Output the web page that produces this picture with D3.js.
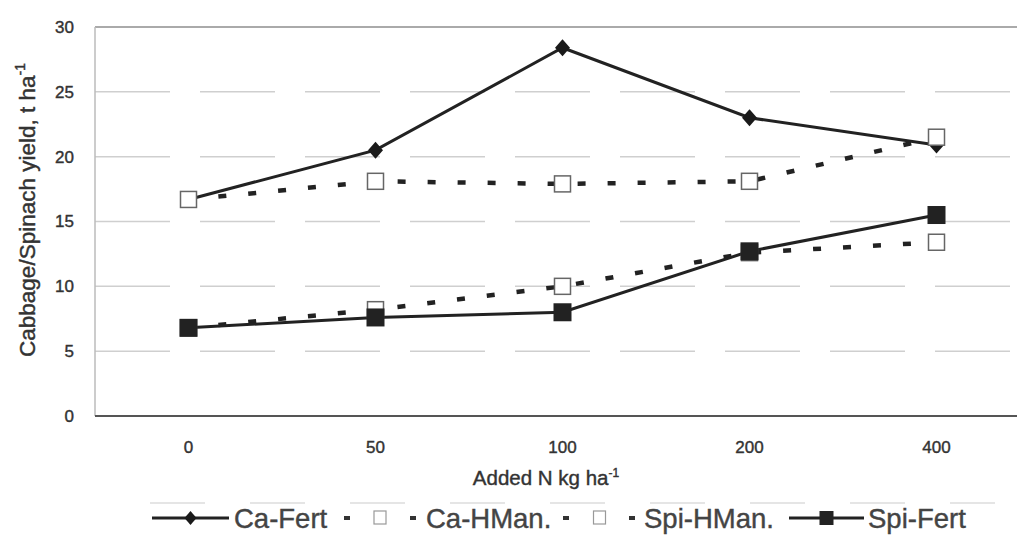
<!DOCTYPE html>
<html>
<head>
<meta charset="utf-8">
<script src="https://cdn.jsdelivr.net/npm/d3@7"></script>
<style>
  body { margin: 0; background: #fff; }
  svg { display: block; }
  text { font-family: "Liberation Sans", Arial, sans-serif; fill: #333; stroke: #333; stroke-width: 0.4px; }
</style>
</head>
<body>
<svg id="chart" width="1017" height="541"></svg>
<script>
// nitrogen rates (categorical x axis)
var nRates = ["0", "50", "100", "200", "400"];
var yTicks = [0, 5, 10, 15, 20, 25, 30];

// yields, t/ha
var caFert = [16.7, 20.5, 28.4, 23.0, 20.9];
var caHMan = [16.7, 18.1, 17.9, 18.1, 21.5];
var spiHMan = [6.8, 8.2, 10.0, 12.6, 13.4];
var spiFert = [6.8, 7.6, 8.0, 12.7, 15.5];

var seriesNames = ["Ca-Fert", "Ca-HMan.", "Spi-HMan.", "Spi-Fert"];

var W = 1017, H = 541;
var margin = {left: 95, right: -13, top: 27, bottom: 125};

var svg = d3.select("#chart");

var x = d3.scalePoint()
	.domain(nRates)
	.range([margin.left, W - margin.right])
	.padding(0.5);

var y = d3.scaleLinear()
	.domain([0, 30])
	.range([H - margin.bottom, margin.top]);

// gridlines (faint, broken like the scan)
svg.append("g").selectAll("line.grid")
	.data(yTicks.filter(function(d) { return d > 0 && d < 30; }))
	.enter().append("line")
	.attr("x1", margin.left).attr("x2", W)
	.attr("y1", function(d) { return y(d); })
	.attr("y2", function(d) { return y(d); })
	.attr("stroke", "#cfcfcf")
	.attr("stroke-width", 1.5)
	.attr("stroke-dasharray", "75,30");

// top line at 30
svg.append("line")
	.attr("x1", margin.left).attr("x2", W)
	.attr("y1", y(30)).attr("y2", y(30))
	.attr("stroke", "#aaa").attr("stroke-width", 2);

// left axis line
svg.append("line")
	.attr("x1", margin.left).attr("x2", margin.left)
	.attr("y1", y(30)).attr("y2", y(0))
	.attr("stroke", "#bbb").attr("stroke-width", 1.5);

// x axis line
svg.append("line")
	.attr("x1", margin.left).attr("x2", W)
	.attr("y1", y(0)).attr("y2", y(0))
	.attr("stroke", "#555").attr("stroke-width", 2);

// y tick labels
svg.append("g").selectAll("text")
	.data(yTicks)
	.enter().append("text")
	.attr("x", 74)
	.attr("y", function(d) { return y(d); })
	.attr("dy", "0.35em")
	.attr("text-anchor", "end")
	.style("font-size", "17px")
	.text(function(d) { return d; });

// x tick labels
svg.append("g").selectAll("text")
	.data(nRates)
	.enter().append("text")
	.attr("x", function(d) { return x(d); })
	.attr("y", 453)
	.attr("text-anchor", "middle")
	.style("font-size", "17px")
	.text(function(d) { return d; });

// x title
var xt = svg.append("text")
	.attr("x", 546)
	.attr("y", 485)
	.attr("text-anchor", "middle")
	.style("font-size", "20.5px");
xt.append("tspan").text("Added N kg ha");
xt.append("tspan").attr("dy", -8).style("font-size", "12px").text("-1");

// y title
var yt = svg.append("text")
	.attr("transform", "translate(35," + 210 + ") rotate(-90)")
	.attr("text-anchor", "middle")
	.style("font-size", "22.5px");
yt.append("tspan").text("Cabbage/Spinach yield, t ha");
yt.append("tspan").attr("dy", -10).style("font-size", "14px").text("-1");

// line generator
var line = d3.line()
	.x(function(d, i) { return x(nRates[i]); })
	.y(function(d) { return y(d); });

var solidStyle = {stroke: "#222", width: 3, dash: null};
var dashStyle = {stroke: "#222", width: 4.5, dash: "8,22"};

function drawLine(vals, st) {
	svg.append("path")
		.datum(vals)
		.attr("d", line)
		.attr("fill", "none")
		.attr("stroke", st.stroke)
		.attr("stroke-width", st.width)
		.attr("stroke-dasharray", st.dash);
}

// rhombus marker, a bit taller than wide
function diamondPath(w, h) {
	return "M0," + (-h) + "L" + w + ",0L0," + h + "L" + (-w) + ",0Z";
}

function drawMarkers(vals, kind) {
	var g = svg.append("g");
	vals.forEach(function(v, i) {
		var cx = x(nRates[i]), cy = y(v);
		if(kind === "diamond") {
			g.append("path").attr("d", diamondPath(7.5, 8.5))
				.attr("transform", "translate(" + cx + "," + cy + ")")
				.attr("fill", "#1a1a1a");
		} else if(kind === "open") {
			g.append("rect").attr("x", cx - 8).attr("y", cy - 8)
				.attr("width", 16).attr("height", 16)
				.attr("fill", "#fff").attr("stroke", "#666").attr("stroke-width", 1.5);
		} else {
			g.append("rect").attr("x", cx - 9).attr("y", cy - 9)
				.attr("width", 18).attr("height", 18)
				.attr("fill", "#222");
		}
	});
}

drawLine(spiHMan, dashStyle);
drawLine(caHMan, dashStyle);
drawLine(caFert, solidStyle);
drawLine(spiFert, solidStyle);
drawMarkers(spiHMan, "open");
drawMarkers(caFert, "diamond");
drawMarkers(caHMan, "open");
drawMarkers(spiFert, "filled");

// faint broken line above the legend
svg.append("line")
	.attr("x1", 150).attr("x2", 995)
	.attr("y1", 503).attr("y2", 503)
	.attr("stroke", "#ddd").attr("stroke-width", 1.5)
	.attr("stroke-dasharray", "55,45");

// legend
var legY = 518;
var legItems = [
	{name: seriesNames[0], x0: 152, x1: 229, st: solidStyle, mk: "diamond", tx: 234},
	{name: seriesNames[1], x0: 344, x1: 416, st: {stroke: "#333", width: 4, dash: "6,27"}, mk: "open", tx: 426},
	{name: seriesNames[2], x0: 563, x1: 636, st: {stroke: "#333", width: 4, dash: "6,27"}, mk: "open", tx: 644},
	{name: seriesNames[3], x0: 789, x1: 864, st: solidStyle, mk: "filled", tx: 868}
];
var leg = svg.append("g");
legItems.forEach(function(it) {
	leg.append("line")
		.attr("x1", it.x0).attr("x2", it.x1)
		.attr("y1", legY).attr("y2", legY)
		.attr("stroke", it.st.stroke)
		.attr("stroke-width", it.st.width)
		.attr("stroke-dasharray", it.st.dash);
	var cx = (it.x0 + it.x1) / 2;
	if(it.mk === "diamond") {
		leg.append("path").attr("d", diamondPath(6, 7))
			.attr("transform", "translate(" + cx + "," + legY + ")")
			.attr("fill", "#1a1a1a");
	} else if(it.mk === "open") {
		leg.append("rect").attr("x", cx - 6).attr("y", legY - 7)
			.attr("width", 12).attr("height", 13)
			.attr("fill", "#fff").attr("stroke", "#999").attr("stroke-width", 1.2);
	} else {
		leg.append("rect").attr("x", cx - 7).attr("y", legY - 7)
			.attr("width", 14).attr("height", 14)
			.attr("fill", "#222");
	}
	leg.append("text")
		.attr("x", it.tx)
		.attr("y", legY)
		.attr("dy", "0.36em")
		.style("font-size", "27.5px")
		.style("fill", "#444")
		.style("stroke", "#444")
		.text(it.name);
});
</script>
</body>
</html>
